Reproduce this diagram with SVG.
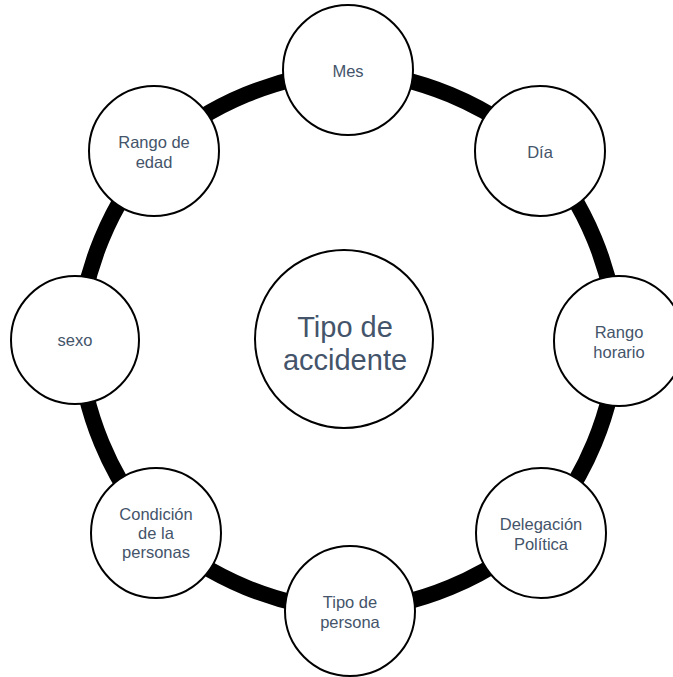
<svg xmlns="http://www.w3.org/2000/svg" width="673" height="677" viewBox="0 0 673 677">
  <style>
    .bg { fill: #ffffff; }
    .ring { fill: none; stroke: #000000; stroke-width: 16; }
    .node { fill: #ffffff; stroke: #000000; stroke-width: 2; }
    .lbl { font-family: "Liberation Sans", Arial, sans-serif; font-size: 16.5px; fill: #44546A; text-anchor: middle; }
    .hub { font-family: "Liberation Sans", Arial, sans-serif; font-size: 29px; fill: #44546A; text-anchor: middle; }
  </style>
  <rect class="bg" x="0" y="0" width="673" height="677"/>

  <!-- cycle arcs between neighbouring nodes -->
  <g id="connectors">
    <path class="ring" d="M 348 71 A 320 320 0 0 1 539 150"/>
    <path class="ring" d="M 539 150 A 320 320 0 0 1 618 341"/>
    <path class="ring" d="M 618 341 A 320 320 0 0 1 539 532"/>
    <path class="ring" d="M 539 532 A 320 320 0 0 1 348 611"/>
    <path class="ring" d="M 348 611 A 320 320 0 0 1 157 532"/>
    <path class="ring" d="M 157 532 A 320 320 0 0 1 78 341"/>
    <path class="ring" d="M 78 341 A 320 320 0 0 1 157 150"/>
    <path class="ring" d="M 157 150 A 320 320 0 0 1 348 71"/>
  </g>

  <g id="hub">
    <circle class="node" cx="344" cy="339" r="89"/>
    <text class="hub" x="345" y="337">Tipo de</text>
    <text class="hub" x="345" y="370">accidente</text>
  </g>

  <g id="mes">
    <circle class="node" cx="348" cy="70" r="65"/>
    <text class="lbl" x="348" y="77">Mes</text>
  </g>

  <g id="dia">
    <circle class="node" cx="540" cy="151" r="65"/>
    <text class="lbl" x="540" y="158">Día</text>
  </g>

  <g id="rango-horario">
    <circle class="node" cx="619" cy="341" r="65"/>
    <text class="lbl" x="619" y="338">Rango</text>
    <text class="lbl" x="619" y="358">horario</text>
  </g>

  <g id="delegacion">
    <circle class="node" cx="541" cy="533" r="65"/>
    <text class="lbl" x="541" y="530">Delegación</text>
    <text class="lbl" x="541" y="550">Política</text>
  </g>

  <g id="tipo-persona">
    <circle class="node" cx="350" cy="611" r="65"/>
    <text class="lbl" x="350" y="608">Tipo de</text>
    <text class="lbl" x="350" y="628">persona</text>
  </g>

  <g id="condicion">
    <circle class="node" cx="156" cy="533" r="65"/>
    <text class="lbl" x="156" y="520">Condición</text>
    <text class="lbl" x="156" y="539">de la</text>
    <text class="lbl" x="156" y="558">personas</text>
  </g>

  <g id="sexo">
    <circle class="node" cx="75" cy="340" r="64"/>
    <text class="lbl" x="75" y="346">sexo</text>
  </g>

  <g id="rango-edad">
    <circle class="node" cx="154" cy="151" r="65"/>
    <text class="lbl" x="154" y="148">Rango de</text>
    <text class="lbl" x="154" y="168">edad</text>
  </g>
</svg>
